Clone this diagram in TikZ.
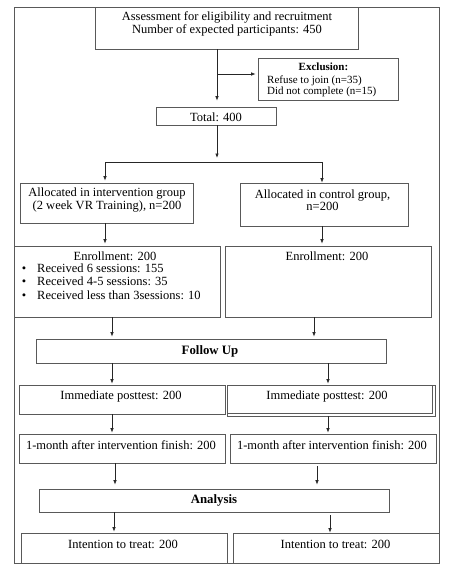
\documentclass[tikz,border=0pt]{standalone}
\usepackage{fontspec}
\setmainfont{Liberation Serif}
\usetikzlibrary{fit,arrows.meta}
\begin{document}
\begin{tikzpicture}[x=1pt,y=-1pt,
  box/.style={draw=black!65, line width=0.7pt, inner sep=0pt},
  txt/.style={inner sep=0pt, font=\fontsize{12.5}{12.5}\selectfont, align=center},
  stxt/.style={inner sep=0pt, font=\fontsize{11}{11}\selectfont},
  bld/.style={inner sep=0pt, font=\fontsize{12.8}{13}\selectfont\bfseries},
  arr/.style={-{Latex[length=4.5pt,width=3.5pt]}, line width=0.7pt, draw=black!85},
  ln/.style={line width=0.7pt, draw=black!85}]
\useasboundingbox (0,0) rectangle (454,574);
% boxes
\node[box, fit={(14,7)(439,563)}] (frame) {};
\node[box, fit={(95,7)(358,49)}] (b1) {};
\node[box, fit={(258,58)(398,100)}] (excl) {};
\node[box, fit={(156,107)(276,125)}] (tot) {};
\node[box, fit={(20,183)(193,223)}] (alI) {};
\node[box, fit={(240,183)(408,226)}] (alC) {};
\node[box, fit={(14,246)(220,317)}] (enI) {};
\node[box, fit={(225,246)(431,317)}] (enC) {};
\node[box, fit={(36,339)(386,363)}] (fu) {};
\node[box, fit={(19,385)(225,414)}] (ipI) {};
\node[box, fit={(227,385)(432,413)}] (ipC) {};
\node[box, fit={(227,385)(435,416)}] (ipCb) {};
\node[box, fit={(19,434)(225,463)}] (mI) {};
\node[box, fit={(230,434)(436,463)}] (mC) {};
\node[box, fit={(39,489)(389,512)}] (an) {};
\node[box, fit={(21,533)(227,563)}] (itI) {};
\node[box, fit={(233,533)(439,563)}] (itC) {};
% texts
\node[txt] (t1) at (227,24) {Assessment for eligibility and recruitment\\Number of expected participants: 450};
\node[stxt, font=\fontsize{11}{11}\selectfont\bfseries] (tex) at (323.5,67) {Exclusion:};
\node[stxt, anchor=west] (tre) at (267,81) {Refuse to join (n=35)};
\node[stxt, anchor=west] (tdn) at (267,91.5) {Did not complete (n=15)};
\node[txt] (ttot) at (216,117) {Total: 400};
\node[txt] (tal1) at (107,200) {Allocated in intervention group\\(2 week VR Training), n=200};
\node[txt] (tal2) at (322.5,200) {Allocated in control group,\\n=200};
\node[txt] (ten1) at (115,256) {Enrollment: 200};
\node[txt] (bd1) at (24,270) {\vphantom{Rg}•};
\node[txt] (bd2) at (24,283) {\vphantom{Rg}•};
\node[txt] (bd3) at (24,297) {\vphantom{Rg}•};
\node[txt, anchor=west] (bu1) at (37,270) {\vphantom{Rg}Received 6 sessions: 155};
\node[txt, anchor=west] (bu2) at (37,283) {\vphantom{Rg}Received 4-5 sessions: 35};
\node[txt, anchor=west] (bu3) at (37,297) {\vphantom{Rg}Received less than 3sessions: 10};
\node[txt] (ten2) at (327,256) {Enrollment: 200};
\node[bld] (tfu) at (210,351) {Follow Up};
\node[txt] (tip1) at (121,396) {Immediate posttest: 200};
\node[txt] (tip2) at (327,396) {Immediate posttest: 200};
\node[txt] (tm1) at (121,445) {1-month after intervention finish: 200};
\node[txt] (tm2) at (332,445) {1-month after intervention finish: 200};
\node[bld] (tan) at (214,500) {Analysis};
\node[txt] (tit1) at (123,544) {Intention to treat: 200};
\node[txt] (tit2) at (335.5,544) {Intention to treat: 200};
% connector coordinates
\coordinate (j1) at (217,74);
\coordinate (j2) at (217,162);
\coordinate (jl) at (105,162);
\coordinate (jr) at (322,162);
\coordinate (xa) at (112,0);
\coordinate (xb) at (314,0);
\coordinate (xc) at (328,0);
\coordinate (xd) at (115,0);
\coordinate (xe) at (317,0);
\coordinate (xf) at (114,0);
\coordinate (xg) at (330,0);
% connectors
\draw[arr, shorten >=6pt] (b1.south -| j1) -- (tot.north -| j1);
\draw[arr, shorten >=2pt] (j1) -- (excl.west |- j1);
\draw[arr, shorten >=4pt] (tot.south -| j2) -- (j2);
\draw[ln] (jl) -- (jr);
\draw[arr, shorten >=2pt] (jl) -- (alI.north -| jl);
\draw[arr] (jr) -- (alC.north -| jr);
\draw[arr, shorten >=2pt] (alI.south -| jl) -- (enI.north -| jl);
\draw[arr, shorten >=2pt] (alC.south -| jr) -- (enC.north -| jr);
\draw[arr, shorten >=2pt] (enI.south -| xa) -- (fu.north -| xa);
\draw[arr, shorten >=2pt] (enC.south -| xb) -- (fu.north -| xb);
\draw[arr, shorten >=1pt] (fu.south -| xa) -- (ipI.north -| xa);
\draw[arr, shorten >=1pt] (fu.south -| xc) -- (ipC.north -| xc);
\draw[arr, shorten >=1pt] (ipI.south -| xa) -- (mI.north -| xa);
\draw[arr, shorten >=1pt] (ipCb.south -| xc) -- (mC.north -| xc);
\draw[arr, shorten >=4pt] (mI.south -| xd) -- (an.north -| xd);
\draw[arr, shorten >=4pt, shorten <=3pt] (mC.south -| xe) -- (an.north -| xe);
\draw[arr, shorten >=1pt] (an.south -| xf) -- (itI.north -| xf);
\draw[arr, shorten <=3pt] (an.south -| xg) -- (itC.north -| xg);
\end{tikzpicture}
\end{document}
